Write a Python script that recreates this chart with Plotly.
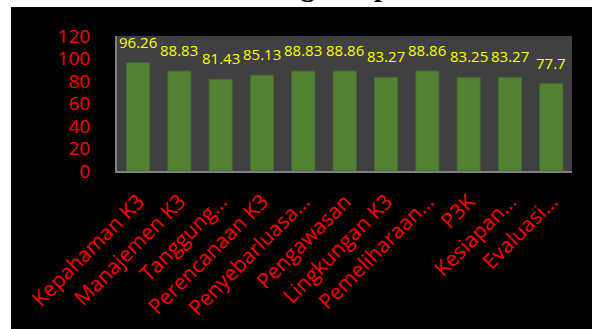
import plotly.graph_objects as go

categories = ["Kepahaman K3", "Manajemen K3", "Tanggung…", "Perencanaan K3",
              "Penyebarluasa…", "Pengawasan", "Lingkungan K3", "Pemeliharaan…",
              "P3K", "Kesiapan…", "Evaluasi…"]
values = [96.26, 88.83, 81.43, 85.13, 88.83, 88.86, 83.27, 88.86, 83.25, 83.27, 77.7]
labels = ["96.26", "88.83", "81.43", "85.13", "88.83", "88.86", "83.27", "88.86", "83.25", "83.27", "77.7"]
y_ticks = [0, 20, 40, 60, 80, 100, 120]
title_text = "Dalam Menghadapi K3"

W, H = 592, 329
L, R, T, B = 117, 20, 36, 158
pw = W - L - R
ph = H - T - B

def px_x(x):
    return (x - L) / pw

def px_y(y):
    return (H - B - y) / ph

fig = go.Figure()
fig.add_trace(go.Bar(
    x=categories, y=values,
    marker=dict(color="#548235", line=dict(color="#44692b", width=1)),
    width=0.56,
    hoverinfo="skip",
))

annotations = []
for c, v, t in zip(categories, values, labels):
    annotations.append(dict(
        x=c, y=v, xref="x", yref="y", text=t, showarrow=False,
        yanchor="middle", yshift=21,
        font=dict(family="Open Sans", size=15, color="#FFFF00"),
    ))
annotations.append(dict(
    x=0.5 * (px_x(160) + px_x(440)), y=px_y(4), xref="paper", yref="paper",
    text="<b>" + title_text + "</b>", showarrow=False, yanchor="bottom", xanchor="center",
    font=dict(family="Liberation Serif", size=28, color="black"),
))

shapes = [
    dict(type="rect", xref="paper", yref="paper", x0=px_x(0), x1=px_x(W), y0=px_y(7), y1=px_y(0),
         fillcolor="white", line=dict(width=0), layer="above"),
    dict(type="rect", xref="paper", yref="paper", x0=px_x(0), x1=px_x(11), y0=px_y(H), y1=px_y(0),
         fillcolor="white", line=dict(width=0), layer="above"),
]

fig.update_layout(
    width=W, height=H,
    margin=dict(l=L, r=R, t=T, b=B, pad=0),
    paper_bgcolor="black",
    plot_bgcolor="#404040",
    showlegend=False,
    bargap=0.44,
    annotations=annotations,
    shapes=shapes,
    xaxis=dict(
        tickangle=-45,
        tickfont=dict(family="Open Sans", size=21, color="red"),
        showline=True, linecolor="#808080", linewidth=2,
        showgrid=False, ticks="",
        ticklabelstandoff=8,
        automargin=False,
    ),
    yaxis=dict(
        range=[0, 120], tickvals=y_ticks,
        tickfont=dict(family="Open Sans", size=19, color="red"),
        showline=True, linecolor="#808080", linewidth=2,
        showgrid=False, zeroline=False, ticks="",
        ticklabelstandoff=21,
        automargin=False,
    ),
)

fig.write_html("out.html")
